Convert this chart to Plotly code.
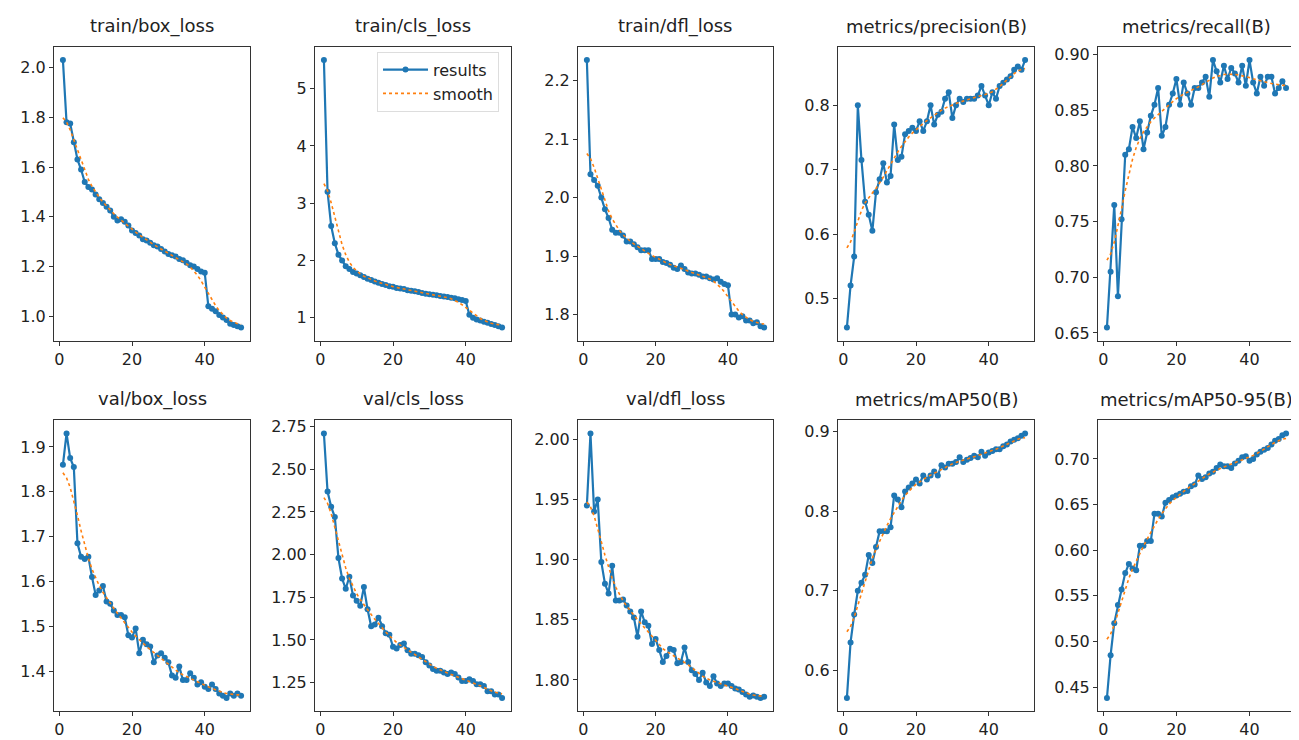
import numpy as np
import plotly.graph_objects as go

epochs = list(range(1, 51))

titles = ["train/box_loss", "train/cls_loss", "train/dfl_loss", "metrics/precision(B)", "metrics/recall(B)",
          "val/box_loss", "val/cls_loss", "val/dfl_loss", "metrics/mAP50(B)", "metrics/mAP50-95(B)"]

train_box_loss = [2.03, 1.78, 1.775, 1.70, 1.63, 1.59, 1.54, 1.52, 1.51, 1.49,
                  1.47, 1.455, 1.44, 1.425, 1.40, 1.385, 1.39, 1.38, 1.365, 1.345,
                  1.335, 1.325, 1.31, 1.305, 1.295, 1.285, 1.28, 1.27, 1.26, 1.25,
                  1.245, 1.24, 1.23, 1.225, 1.215, 1.205, 1.20, 1.19, 1.18, 1.175,
                  1.04, 1.03, 1.02, 1.005, 0.995, 0.985, 0.97, 0.965, 0.96, 0.955]
train_cls_loss = [5.5, 3.2, 2.6, 2.3, 2.1, 2.0, 1.9, 1.85, 1.8, 1.77,
                  1.74, 1.71, 1.68, 1.66, 1.63, 1.61, 1.59, 1.57, 1.55, 1.54,
                  1.52, 1.51, 1.50, 1.48, 1.47, 1.46, 1.45, 1.43, 1.42, 1.41,
                  1.40, 1.39, 1.38, 1.37, 1.36, 1.35, 1.34, 1.32, 1.31, 1.29,
                  1.05, 1.00, 0.97, 0.95, 0.93, 0.91, 0.89, 0.87, 0.85, 0.83]
train_dfl_loss = [2.235, 2.04, 2.03, 2.02, 2.0, 1.98, 1.965, 1.945, 1.94, 1.94,
                  1.935, 1.925, 1.925, 1.92, 1.915, 1.91, 1.91, 1.91, 1.895, 1.895,
                  1.895, 1.89, 1.888, 1.885, 1.88, 1.878, 1.884, 1.878, 1.872, 1.87,
                  1.87, 1.868, 1.865, 1.865, 1.862, 1.86, 1.862, 1.856, 1.852, 1.85,
                  1.80, 1.80, 1.795, 1.797, 1.79, 1.79, 1.785, 1.787, 1.78, 1.778]
precision = [0.455, 0.52, 0.565, 0.80, 0.715, 0.65, 0.63, 0.605, 0.665, 0.685,
             0.71, 0.68, 0.69, 0.77, 0.715, 0.72, 0.755, 0.76, 0.765, 0.76,
             0.775, 0.76, 0.775, 0.80, 0.77, 0.785, 0.79, 0.81, 0.82, 0.78,
             0.80, 0.81, 0.805, 0.81, 0.81, 0.81, 0.815, 0.83, 0.815, 0.80,
             0.82, 0.81, 0.83, 0.835, 0.84, 0.845, 0.855, 0.86, 0.855, 0.87]
recall = [0.655, 0.705, 0.765, 0.683, 0.752, 0.81, 0.815, 0.835, 0.825, 0.84,
          0.815, 0.83, 0.845, 0.855, 0.87, 0.827, 0.835, 0.855, 0.865, 0.878,
          0.855, 0.875, 0.865, 0.855, 0.87, 0.87, 0.875, 0.88, 0.862, 0.895,
          0.885, 0.875, 0.89, 0.878, 0.888, 0.883, 0.875, 0.89, 0.872, 0.895,
          0.875, 0.865, 0.88, 0.872, 0.88, 0.88, 0.865, 0.87, 0.876, 0.870]
val_box_loss = [1.86, 1.93, 1.875, 1.855, 1.685, 1.655, 1.65, 1.655, 1.61, 1.57,
                1.58, 1.59, 1.555, 1.55, 1.535, 1.525, 1.525, 1.52, 1.48, 1.475,
                1.495, 1.44, 1.47, 1.46, 1.455, 1.42, 1.435, 1.44, 1.43, 1.42,
                1.39, 1.385, 1.41, 1.38, 1.38, 1.395, 1.385, 1.37, 1.375, 1.365,
                1.36, 1.37, 1.36, 1.35, 1.345, 1.34, 1.35, 1.345, 1.35, 1.345]
val_cls_loss = [2.71, 2.37, 2.28, 2.22, 1.98, 1.86, 1.80, 1.87, 1.76, 1.73,
                1.70, 1.81, 1.68, 1.58, 1.59, 1.63, 1.58, 1.54, 1.53, 1.46,
                1.45, 1.47, 1.48, 1.44, 1.42, 1.42, 1.41, 1.40, 1.37, 1.35,
                1.33, 1.32, 1.32, 1.31, 1.30, 1.31, 1.30, 1.28, 1.26, 1.26,
                1.27, 1.26, 1.24, 1.24, 1.23, 1.20, 1.20, 1.18, 1.18, 1.16]
val_dfl_loss = [1.945, 2.005, 1.94, 1.95, 1.898, 1.88, 1.872, 1.895, 1.866, 1.866,
                1.867, 1.862, 1.857, 1.852, 1.836, 1.857, 1.848, 1.845, 1.83, 1.834,
                1.825, 1.815, 1.82, 1.826, 1.825, 1.814, 1.815, 1.827, 1.815, 1.808,
                1.805, 1.80, 1.806, 1.798, 1.795, 1.803, 1.797, 1.795, 1.797, 1.797,
                1.795, 1.793, 1.792, 1.79, 1.788, 1.786, 1.787, 1.786, 1.785, 1.786]
map50 = [0.565, 0.635, 0.67, 0.70, 0.71, 0.72, 0.745, 0.735, 0.755, 0.775,
         0.775, 0.775, 0.78, 0.82, 0.815, 0.805, 0.825, 0.83, 0.835, 0.84,
         0.835, 0.845, 0.84, 0.845, 0.85, 0.845, 0.858, 0.855, 0.86, 0.86,
         0.862, 0.868, 0.862, 0.865, 0.867, 0.87, 0.868, 0.875, 0.87, 0.874,
         0.876, 0.878, 0.878, 0.882, 0.884, 0.888, 0.89, 0.892, 0.895, 0.898]
map50_95 = [0.438, 0.485, 0.52, 0.54, 0.557, 0.575, 0.585, 0.58, 0.578, 0.605,
            0.605, 0.61, 0.61, 0.64, 0.64, 0.637, 0.652, 0.655, 0.658, 0.66,
            0.662, 0.664, 0.665, 0.67, 0.672, 0.682, 0.678, 0.68, 0.684, 0.686,
            0.69, 0.694, 0.692, 0.692, 0.69, 0.695, 0.698, 0.702, 0.703, 0.698,
            0.70, 0.705, 0.708, 0.71, 0.712, 0.716, 0.72, 0.722, 0.726, 0.728]

series = [train_box_loss, train_cls_loss, train_dfl_loss, precision, recall,
          val_box_loss, val_cls_loss, val_dfl_loss, map50, map50_95]
ytick_step = [0.2, 1, 0.1, 0.1, 0.05, 0.1, 0.25, 0.05, 0.1, 0.05]
ytick_fmt = [".1f", "d", ".1f", ".1f", ".2f", ".1f", ".2f", ".2f", ".1f", ".2f"]


def gaussian_smooth(y, sigma=3.0):
    y = np.asarray(y, dtype=float)
    r = int(4 * sigma + 0.5)
    k = np.exp(-0.5 * (np.arange(-r, r + 1) / sigma) ** 2)
    k /= k.sum()
    yp = np.pad(y, r, mode="symmetric")
    return np.convolve(yp, k, mode="valid")


W, H = 1299, 740
col_px = [(46, 242), (307, 503), (570, 765), (830, 1026), (1090, 1287)]
row_px = [(36, 332), (412, 705)]

BLUE = "#1f77b4"
ORANGE = "#ff7f0e"

fig = go.Figure()
annotations = []
for i, (name, y) in enumerate(zip(titles, series)):
    r, c = divmod(i, 5)
    ax = "" if i == 0 else str(i + 1)
    sm = gaussian_smooth(y)
    fig.add_trace(go.Scatter(
        x=epochs, y=y, mode="lines+markers", name="results",
        line=dict(color=BLUE, width=2.2), marker=dict(color=BLUE, size=6),
        xaxis="x" + ax, yaxis="y" + ax, showlegend=(i == 0), legendrank=1))
    fig.add_trace(go.Scatter(
        x=epochs, y=sm, mode="lines", name="smooth",
        line=dict(color=ORANGE, width=1.6, dash="dot"),
        xaxis="x" + ax, yaxis="y" + ax, showlegend=(i == 0), legendrank=2))
    lo = min(min(y), sm.min())
    hi = max(max(y), sm.max())
    pad = 0.05 * (hi - lo)
    x0, x1 = col_px[c]
    t0, t1 = row_px[r]
    axis_common = dict(showline=True, mirror=True, linecolor="#333", linewidth=1,
                       ticks="outside", ticklen=4, tickcolor="#333", showgrid=False,
                       zeroline=False, tickfont=dict(family="DejaVu Sans", size=16, color="#222"))
    fig.layout["xaxis" + ax] = dict(domain=[x0 / W, x1 / W], anchor="y" + ax,
                                    range=[-1.45, 52.45], tickvals=[0, 20, 40], **axis_common)
    fig.layout["yaxis" + ax] = dict(domain=[1 - t1 / H, 1 - t0 / H], anchor="x" + ax,
                                    range=[lo - pad, hi + pad], dtick=ytick_step[i], tick0=0,
                                    tickformat=ytick_fmt[i], **axis_common)
    annotations.append(dict(text=name, x=(x0 + x1) / 2 / W, y=1 - (t0 - 8) / H,
                            xref="paper", yref="paper", xanchor="center", yanchor="bottom",
                            showarrow=False, font=dict(family="DejaVu Sans", size=18, color="#222")))

fig.update_layout(
    width=W, height=H, margin=dict(l=0, r=0, t=0, b=0),
    paper_bgcolor="white", plot_bgcolor="white",
    annotations=annotations,
    legend=dict(x=491 / W, y=1 - 41 / H, xanchor="right", yanchor="top",
                bgcolor="rgba(255,255,255,0.9)", bordercolor="#ddd", borderwidth=1,
                font=dict(family="DejaVu Sans", size=16, color="#222"),
                itemwidth=45, tracegroupgap=4),
)

fig.write_html("out.html")
